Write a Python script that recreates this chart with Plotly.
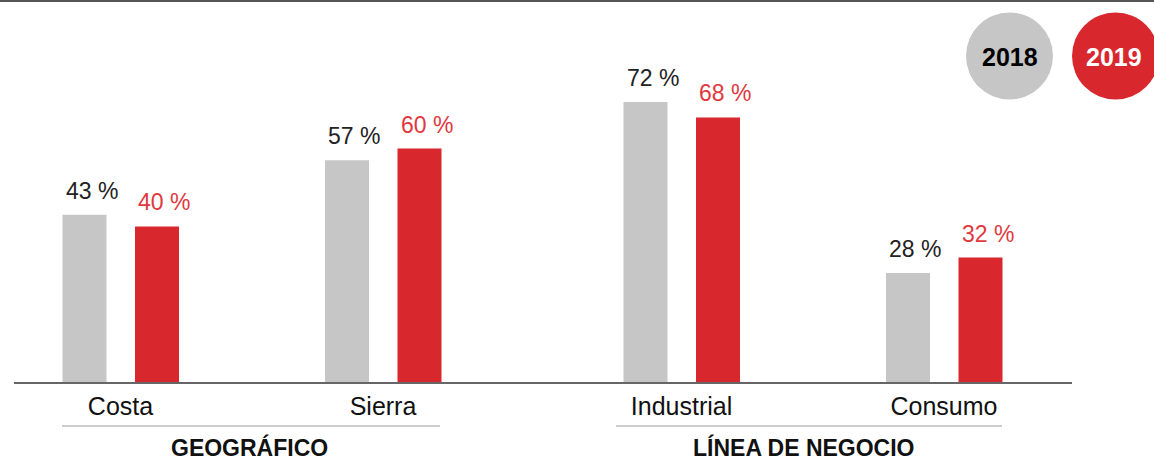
import plotly.graph_objects as go

# ---------------- data ----------------
geo_categories = ["Costa", "Sierra"]
biz_categories = ["Industrial", "Consumo"]
group_titles = ["GEOGRÁFICO", "LÍNEA DE NEGOCIO"]
series_names = ["2018", "2019"]
geo_2018 = [43, 57]
geo_2019 = [40, 60]
biz_2018 = [72, 28]
biz_2019 = [68, 32]

# ---------------- style / layout constants ----------------
W, H = 1154, 462
FONT = "Liberation Sans, Arial, Helvetica, sans-serif"
GREY = "#c6c6c6"
RED = "#d9272e"
RED_TXT = "#df383e"
DARK = "#222222"

UNIT = 262.5            # px per category slot
BAR_W = 44 / UNIT       # bar width in axis units
OFF_A = -58 / UNIT      # offset of 2018 bar
OFF_B = 14.5 / UNIT     # offset of 2019 bar
BASE_PX = 382           # baseline pixel (from top)
PX_PER_PCT = 3.89
YMAX = BASE_PX / PX_PER_PCT

def px(x):
    return x / W

def py(y):
    return 1 - y / H

# subplot domains (px) and category-0 centers (px)
dom1, c1 = (14, 530), 120.5
dom2, c2 = (550, 1072), 681.5

def xrange_for(dom, c):
    return [(dom[0] - c) / UNIT, (dom[1] - c) / UNIT]

fig = go.Figure()

panels = [
    ("x", "y", geo_categories, geo_2018, geo_2019),
    ("x2", "y2", biz_categories, biz_2018, biz_2019),
]

annotations = []
for xa, ya, cats, s18, s19 in panels:
    for name, vals, color, off, tcol in [
        (series_names[0], s18, GREY, OFF_A, DARK),
        (series_names[1], s19, RED, OFF_B, RED_TXT),
    ]:
        fig.add_trace(go.Bar(
            x=cats, y=vals, name=name, xaxis=xa, yaxis=ya,
            marker=dict(color=color, line=dict(width=0)),
            width=BAR_W, offset=off, showlegend=False, hoverinfo="x+y",
        ))
        for i, v in enumerate(vals):
            annotations.append(dict(
                x=i + off, y=v, xref=xa, yref=ya,
                text=f"{v} %", showarrow=False,
                xanchor="left", yanchor="bottom", xshift=1, yshift=9,
                font=dict(family=FONT, size=23, color=tcol),
            ))

ydom = [py(BASE_PX), 1.0]
axis_common = dict(showgrid=False, zeroline=False, showline=False, ticks="",
                   tickfont=dict(family=FONT, size=25, color="#111111"),
                   fixedrange=True)
yaxis_common = dict(range=[0, YMAX], domain=ydom, showgrid=False, zeroline=False,
                    showline=False, showticklabels=False, ticks="", fixedrange=True)

fig.update_layout(
    width=W, height=H,
    margin=dict(l=0, r=0, t=0, b=0),
    paper_bgcolor="white", plot_bgcolor="white",
    barmode="group",
    xaxis=dict(domain=[px(dom1[0]), px(dom1[1])], range=xrange_for(dom1, c1),
               anchor="y", ticklabelstandoff=7, **axis_common),
    xaxis2=dict(domain=[px(dom2[0]), px(dom2[1])], range=xrange_for(dom2, c2),
                anchor="y2", ticklabelstandoff=7, **axis_common),
    yaxis=dict(anchor="x", **yaxis_common),
    yaxis2=dict(anchor="x2", **yaxis_common),
    font=dict(family=FONT),
)

shapes = [
    # top border
    dict(type="line", xref="paper", yref="paper", x0=0, x1=1, y0=py(1), y1=py(1),
         line=dict(color="#555555", width=2)),
    # baseline
    dict(type="line", xref="paper", yref="paper", x0=px(14), x1=px(1072),
         y0=py(383), y1=py(383), line=dict(color="#666666", width=2), layer="above"),
    # group underlines
    dict(type="line", xref="paper", yref="paper", x0=px(62), x1=px(440),
         y0=py(426), y1=py(426), line=dict(color="#9a9a9a", width=1)),
    dict(type="line", xref="paper", yref="paper", x0=px(616), x1=px(1002),
         y0=py(426), y1=py(426), line=dict(color="#9a9a9a", width=1)),
    # legend circles
    dict(type="circle", xref="paper", yref="paper", x0=px(966), x1=px(1053),
         y0=py(99.5), y1=py(12.5), fillcolor=GREY, line=dict(width=0)),
    dict(type="circle", xref="paper", yref="paper", x0=px(1072), x1=px(1159),
         y0=py(99.5), y1=py(12.5), fillcolor=RED, line=dict(width=0)),
]

annotations += [
    dict(x=px(249), y=0, xref="paper", yref="paper", text=f"<b>{group_titles[0]}</b>",
         showarrow=False, xanchor="center", yanchor="bottom", borderpad=0,
         font=dict(family=FONT, size=23, color="#111111")),
    dict(x=px(804), y=0, xref="paper", yref="paper", text=f"<b>{group_titles[1]}</b>",
         showarrow=False, xanchor="center", yanchor="bottom", borderpad=0,
         font=dict(family=FONT, size=23, color="#111111")),
    dict(x=px(1010), y=py(57), xref="paper", yref="paper", text=f"<b>{series_names[0]}</b>",
         showarrow=False, xanchor="center", yanchor="middle",
         font=dict(family=FONT, size=25, color="#000000")),
    dict(x=px(1114), y=py(57), xref="paper", yref="paper", text=f"<b>{series_names[1]}</b>",
         showarrow=False, xanchor="center", yanchor="middle",
         font=dict(family=FONT, size=25, color="#ffffff")),
]

fig.update_layout(shapes=shapes, annotations=annotations)
fig.write_html(
    "out.html",
    config={"displayModeBar": False},
    post_script="document.body.style.margin='0';document.body.style.overflow='hidden';",
)
